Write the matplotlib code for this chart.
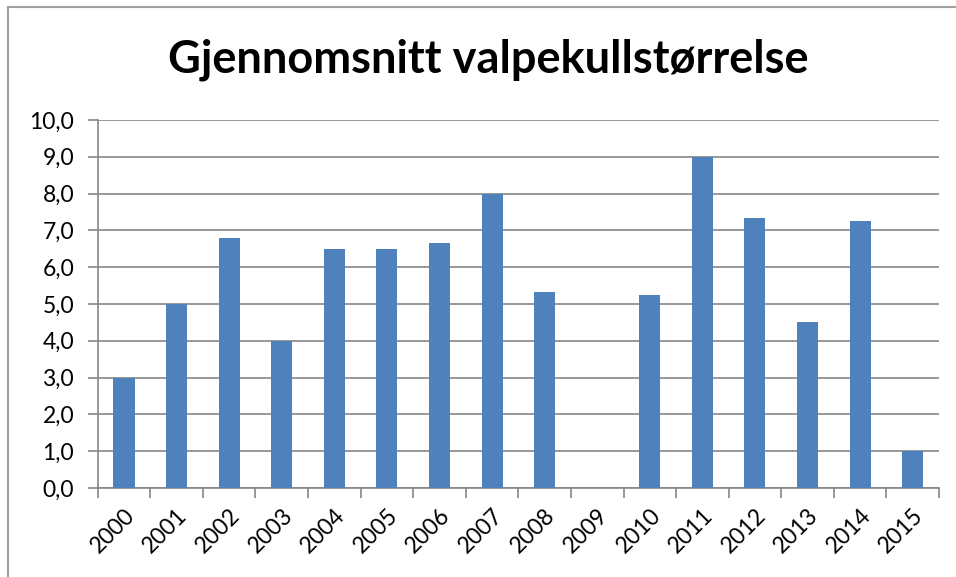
import matplotlib
matplotlib.use("Agg")
import matplotlib.pyplot as plt
from matplotlib.lines import Line2D
import numpy as np

years = ["2000", "2001", "2002", "2003", "2004", "2005", "2006", "2007",
         "2008", "2009", "2010", "2011", "2012", "2013", "2014", "2015"]
values = [3.0, 5.0, 6.8, 4.0, 6.5, 6.5, 6.67, 8.0,
          5.33, 0.0, 5.25, 9.0, 7.33, 4.5, 7.25, 1.0]
yticks = [0, 1, 2, 3, 4, 5, 6, 7, 8, 9, 10]
title = "Gjennomsnitt valpekullstørrelse"

plt.rcParams['font.family'] = ['Lato', 'DejaVu Sans']

W, H = 956, 577
fig = plt.figure(figsize=(W / 100, H / 100), dpi=100)
ax = fig.add_axes([97.7 / W, 1 - 488 / H, (939 - 97.7) / W, (488 - 120) / H])

x = np.arange(len(years))
ax.bar(x, values, width=0.4, color="#4F81BD", zorder=3)

ax.set_xlim(-0.5, len(years) - 0.5)
ax.set_ylim(0, 10)
ax.set_yticks(yticks)
ax.set_yticklabels([f"{v:.1f}".replace(".", ",") for v in yticks], fontsize=16.5)
ax.yaxis.grid(True, color="#868686", linewidth=1.2, zorder=0)
ax.set_axisbelow(True)

ax.set_xticks(x)
ax.set_xticklabels(years, rotation=45, ha="right", va="top",
                   rotation_mode="anchor", fontsize=16.5)
ax.tick_params(axis="x", length=0, pad=12)
ax.set_xticks(np.arange(len(years) + 1) - 0.5, minor=True)
ax.tick_params(axis="x", which="minor", length=7, color="#868686", width=1.2)
ax.tick_params(axis="y", length=7, color="#868686", width=1.2, pad=10)

for s in ["top", "right"]:
    ax.spines[s].set_visible(False)
for s in ["left", "bottom"]:
    ax.spines[s].set_color("#868686")
    ax.spines[s].set_linewidth(1.2)

fig.text(488 / W, 1 - 60 / H, title, ha="center", va="center",
         fontsize=32.5, fontweight="bold")

# chart area border (partially visible)
fig.add_artist(Line2D([8 / W, 8 / W], [0, 1 - 7 / H], transform=fig.transFigure,
                      color="#A0A0A0", linewidth=1.5))
fig.add_artist(Line2D([8 / W, 1], [1 - 7 / H, 1 - 7 / H], transform=fig.transFigure,
                      color="#A0A0A0", linewidth=1.5))

fig.savefig("out.png", dpi=100)
